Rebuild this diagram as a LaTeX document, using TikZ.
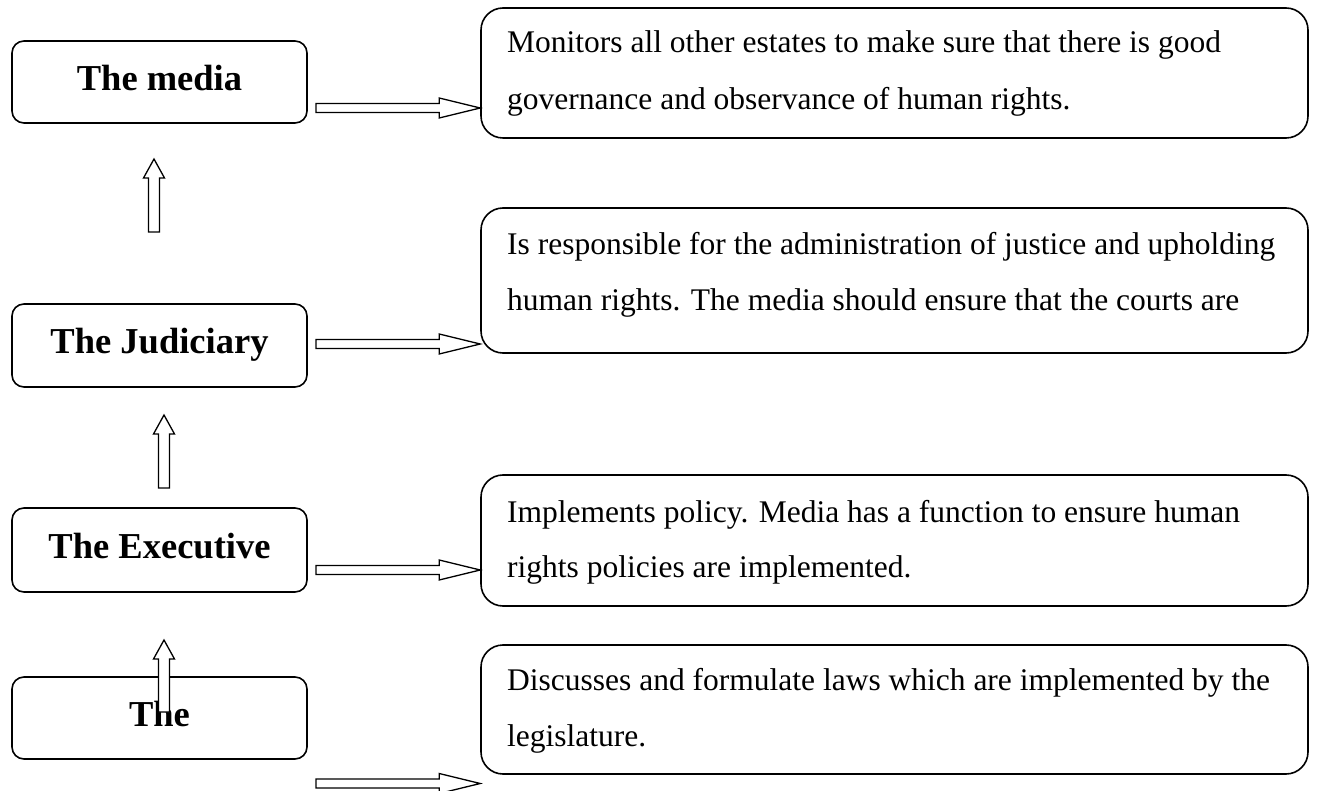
\documentclass[tikz,border=0pt]{standalone}
\usepackage{fontspec}
\setmainfont{Liberation Serif}
\usetikzlibrary{calc}
\tikzset{
  lbox/.style={draw, line width=1.6pt, rounded corners=12pt, minimum width=295pt,
    inner sep=0pt, font=\fontsize{36.5}{40}\selectfont\bfseries, text height=26pt, text depth=9pt},
  rbox/.style={draw, line width=1.6pt, rounded corners=22pt, minimum width=827pt, inner sep=0pt},
  rtext/.style={anchor=base west, inner sep=0pt, font=\fontsize{31.5}{36}\selectfont},
  barrow/.style={draw, line width=1.3pt, fill=white, line join=miter},
}
\newcommand\hblock[2]{\draw[barrow] ($(#1)+(0,-4.5)$) -- ($(#2)+(-41,-4.5)$) -- ($(#2)+(-41,-10)$) -- (#2) -- ($(#2)+(-41,10)$) -- ($(#2)+(-41,4.5)$) -- ($(#1)+(0,4.5)$) -- cycle;}
\newcommand\vblock[2]{\draw[barrow] ($(#1)+(-5.5,0)$) -- ($(#2)+(-5.5,19)$) -- ($(#2)+(-10.5,19)$) -- (#2) -- ($(#2)+(10.5,19)$) -- ($(#2)+(5.5,19)$) -- ($(#1)+(5.5,0)$) -- cycle;}
\begin{document}
\begin{tikzpicture}[x=1pt,y=-1pt]
\useasboundingbox (0,0) rectangle (1320,791);
% left boxes
\node[lbox, minimum height=82pt] (media) at (159.5,82) {The media};
\node[lbox, minimum height=83pt] (jud) at (159.5,345.5) {The Judiciary};
\node[lbox, minimum height=84pt] (exe) at (159.5,550) {The Executive};
\node[lbox, minimum height=82pt] (leg) at (159.5,718) {The};
% right boxes
\node[rbox, minimum height=130pt] (box1) at (894.5,73) {};
\node[rbox, minimum height=145pt] (box2) at (894.5,280.5) {};
\node[rbox, minimum height=131pt] (box3) at (894.5,540.5) {};
\node[rbox, minimum height=129pt] (box4) at (894.5,709.5) {};
% texts
\node[rtext] (t1a) at (507,53) {Monitors all other estates to make sure that there is good};
\node[rtext] (t1b) at (507,110) {governance and observance of human rights.};
\node[rtext] (t2a) at (507,255) {Is responsible for the administration of justice and upholding};
\node[rtext] (t2b) at (507,311) {human rights. The media should ensure that the courts are};
\node[rtext] (t3a) at (507,522) {Implements policy. Media has a function to ensure human};
\node[rtext] (t3b) at (507,577) {rights policies are implemented.};
\node[rtext] (t4a) at (507,690) {Discusses and formulate laws which are implemented by the};
\node[rtext] (t4b) at (507,746) {legislature.};
% horizontal arrows
\coordinate (h1s) at (316,108); \coordinate (h1e) at (box1.west |- h1s);
\coordinate (h2s) at (316,344); \coordinate (h2e) at (box2.west |- h2s);
\coordinate (h3s) at (316,570); \coordinate (h3e) at (box3.west |- h3s);
\coordinate (h4s) at (316,783.5); \coordinate (h4e) at (box4.west |- h4s);
\hblock{h1s}{h1e}
\hblock{h2s}{h2e}
\hblock{h3s}{h3e}
\hblock{h4s}{h4e}
% vertical arrows
\coordinate (v1s) at (154,232); \coordinate (v1e) at (154,159);
\coordinate (v2s) at (164,488); \coordinate (v2e) at (164,415);
\coordinate (v3s) at (164,712); \coordinate (v3e) at (164,640);
\vblock{v1s}{v1e}
\vblock{v2s}{v2e}
\vblock{v3s}{v3e}
\end{tikzpicture}
\end{document}
